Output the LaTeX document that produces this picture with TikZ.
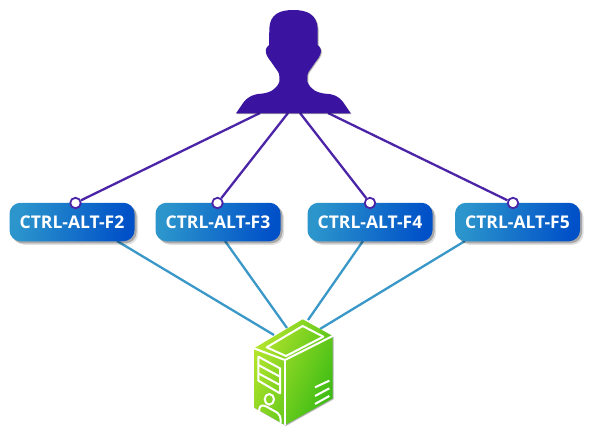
\documentclass[tikz,border=0pt]{standalone}
\usepackage{fontspec}
\setmainfont{Open Sans}
\usetikzlibrary{shadows,backgrounds}
\definecolor{userc}{HTML}{3A14A0}
\definecolor{userl}{HTML}{4C24A8}
\definecolor{linkb}{HTML}{3A98C8}
\definecolor{boxa}{HTML}{2C96CC}
\definecolor{boxb}{HTML}{0050C8}
\definecolor{pca}{HTML}{B4E42C}
\definecolor{pcb}{HTML}{3CBC14}
\tikzset{
  softshadow/.style={
    general shadow={fill=black,opacity=.12,shadow xshift=3.5pt,shadow yshift=-3.5pt},
    general shadow={fill=black,opacity=.25,shadow xshift=2pt,shadow yshift=-2pt}},
  keybox/.style={rounded corners=11pt,minimum width=125pt,minimum height=38.5pt,inner sep=0pt,
    left color=boxa,right color=boxb,shading angle=80,text=white,
    font=\fontsize{17.5pt}{18pt}\selectfont\bfseries,softshadow},
  dot/.style={circle,draw=userl,fill=white,line width=1.8pt,minimum size=10.5pt,inner sep=0pt},
  userlink/.style={draw=userl,line width=2.3pt},
  pclink/.style={draw=linkb,line width=2.3pt},
  pcline/.style={draw=white,line width=2pt,line join=round},
}
\begin{document}
\begin{tikzpicture}[x=1pt,y=-1pt]
\useasboundingbox (0,0) rectangle (600,431);
\node[keybox] (b1) at (72,222) {CTRL-ALT-F2};
\node[keybox] (b2) at (218,222) {CTRL-ALT-F3};
\node[keybox] (b3) at (370,222) {CTRL-ALT-F4};
\node[keybox] (b4) at (517.5,222) {CTRL-ALT-F5};
\node[dot] (d1) at (75.5,203) {};
\node[dot] (d2) at (217.5,203) {};
\node[dot] (d3) at (370,203) {};
\node[dot] (d4) at (513,203) {};
\coordinate (u1) at (260,113);
\coordinate (u2) at (288,113);
\coordinate (u3) at (300,113);
\coordinate (u4) at (328,113);
\coordinate (s1) at (117,241);
\coordinate (s2) at (225,241);
\coordinate (s3) at (363,241);
\coordinate (s4) at (465,241);
\coordinate (p1) at (274,335);
\coordinate (p2) at (287,328);
\coordinate (p3) at (308,320);
\coordinate (p4) at (320,329);
\begin{scope}[on background layer]
\foreach \i in {1,2,3,4} {
  \draw[userlink] (u\i) -- (d\i);
  \draw[pclink] (s\i) -- (p\i);
}
\end{scope}
% user silhouette
\def\userpath{(220,30) .. controls (180,30) and (150,42) .. (148,85)
  -- (147,135)
  .. controls (138,142) and (134,152) .. (140,165)
  .. controls (146,178) and (152,182) .. (160,195)
  .. controls (168,208) and (178,216) .. (178,228)
  -- (178,245) .. controls (170,268) and (150,278) .. (125,281)
  .. controls (100,282) and (85,290) .. (72,305)
  -- (48,340) -- (392,340) -- (368,305)
  .. controls (355,288) and (340,282) .. (315,281)
  .. controls (290,278) and (270,268) .. (262,245)
  -- (262,228) .. controls (262,216) and (272,208) .. (280,195)
  .. controls (288,182) and (294,178) .. (300,165)
  .. controls (306,152) and (302,142) .. (293,135)
  -- (293,85) .. controls (290,42) and (260,30) .. (220,30) -- cycle}
\begin{scope}[shift={(220,0)},x=1/3*1pt,y=-1/3*1pt]
\fill[black,opacity=.12] [shift={(3.5,3.5)}] \userpath;
\fill[black,opacity=.25] [shift={(2,2)}] \userpath;
\fill[userc] \userpath;
\end{scope}
% computer
\def\pcpath{(42,115) -- (188,28) -- (278,78) -- (278,265) -- (135,345) -- (42,292) -- cycle}
\begin{scope}[shift={(240,310)},x=1/3*1pt,y=-1/3*1pt]
\fill[black,opacity=.12] [shift={(3.5,3.5)}] \pcpath;
\fill[black,opacity=.25] [shift={(2,2)}] \pcpath;
\shade[left color=pca,right color=pcb,shading angle=65] \pcpath;
\draw[pcline] (42,115) -- (135,150) -- (278,78);
\draw[pcline] (135,150) -- (135,345);
\draw[pcline] (80,112) -- (188,48) -- (250,80) -- (138,138) -- cycle;
\draw[pcline] (55,140) -- (120,175) -- (120,250) -- (55,212) -- cycle;
\draw[pcline] (55,165) -- (120,200);
\draw[pcline] (55,190) -- (120,225);
\draw[pcline] (88,268) circle[x radius=14,y radius=16];
\draw[pcline] (55,330) -- (58,296) .. controls (60,285) and (70,285) .. (80,290) -- (112,308) .. controls (120,314) and (122,320) .. (122,340);
\draw[pcline] (225,232) -- (268,212);
\draw[pcline] (225,258) -- (268,235);
\draw[pcline] (225,282) -- (268,258);
\end{scope}
\end{tikzpicture}
\end{document}
